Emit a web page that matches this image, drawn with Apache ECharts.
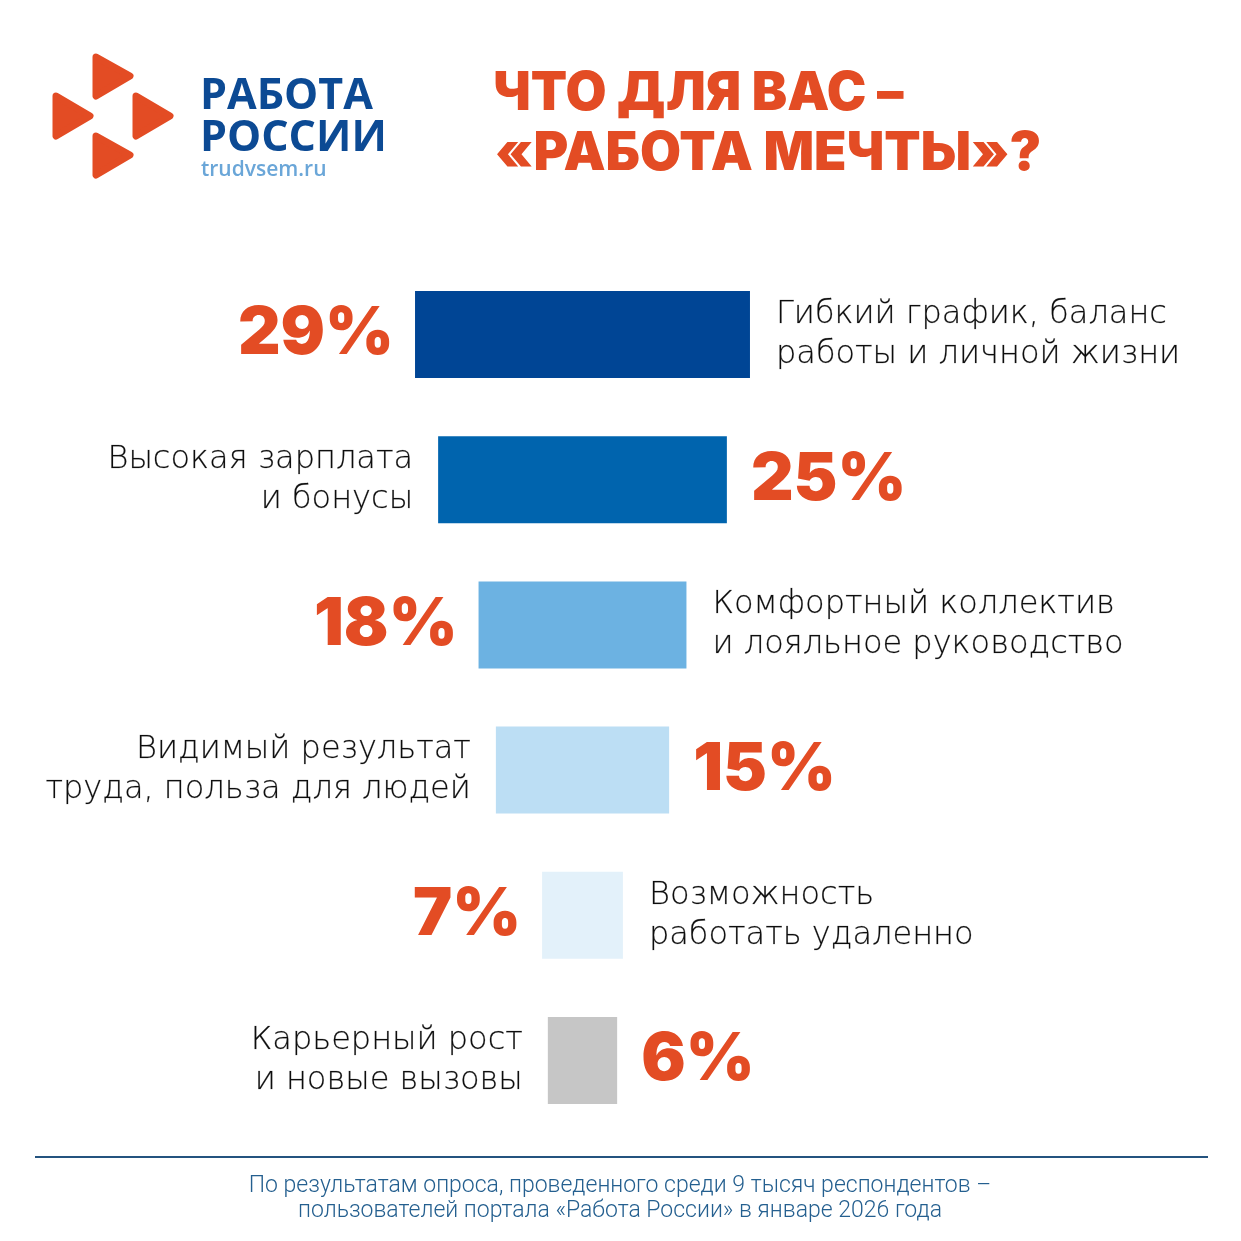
<!DOCTYPE html>
<html><head><meta charset="utf-8">
<script src="https://cdn.jsdelivr.net/npm/echarts@6/dist/echarts.min.js"></script>
<style>html,body{margin:0;padding:0;background:#fff}#c{width:1241px;height:1241px}</style>
</head><body><div id="c"></div>
<script>
const categories = [
  'Гибкий график, баланс\nработы и личной жизни',
  'Высокая зарплата\nи бонусы',
  'Комфортный коллектив\nи лояльное руководство',
  'Видимый результат\nтруда, польза для людей',
  'Возможность\nработать удаленно',
  'Карьерный рост\nи новые вызовы'
];
const values = [29, 25, 18, 15, 7, 6];
const barColors = ['#004595', '#0064ae', '#6cb2e2', '#bcdef4', '#e3f1fa', '#c6c6c6'];
const titleLines = ['ЧТО ДЛЯ ВАС –', '«РАБОТА МЕЧТЫ»?'];
const footnote = 'По результатам опроса, проведенного среди 9 тысяч респондентов –\nпользователей портала «Работа России» в январе 2026 года';

const ORANGE = '#e34c24';
const pctLabel = {fontFamily: 'Inter', fontWeight: 900, fontSize: 66, color: ORANGE};
const txtLabel = {fontFamily: 'DejaVu Sans', fontWeight: 300, fontSize: 32, lineHeight: 40, color: '#0d0d0d',
  textBorderColor: 'rgba(13,13,13,0.35)', textBorderWidth: 0.5};

// transparent offset that centres each bar on the axis midpoint (50)
const baseData = values.map((v, i) => {
  const pctOnLeft = i % 2 === 0;
  const lab = Object.assign({show: true, position: 'insideRight'}, pctOnLeft ? pctLabel : txtLabel,
    {formatter: pctOnLeft ? v + '%' : categories[i], distance: pctOnLeft ? 21 : 25});
  return {value: 50 - v / 2, label: lab};
});
const barData = values.map((v, i) => {
  const pctOnLeft = i % 2 === 0;
  const lab = Object.assign({show: true, position: 'right'}, pctOnLeft ? txtLabel : pctLabel,
    {formatter: pctOnLeft ? categories[i] : v + '%', distance: pctOnLeft ? 26 : 24});
  return {value: v, itemStyle: {color: barColors[i]}, label: lab};
});

const chart = echarts.init(document.getElementById('c'));
const tri = (pts) => ({type: 'polygon', shape: {points: pts},
  style: {fill: ORANGE, stroke: ORANGE, lineWidth: 7, lineJoin: 'round'}});
chart.setOption({
  backgroundColor: '#ffffff',
  animation: false,
  grid: {left: 5, right: 81, top: 262, height: 871},
  xAxis: {type: 'value', min: 0, max: 100, show: false},
  yAxis: {type: 'category', data: categories, inverse: true, show: false},
  series: [
    {type: 'bar', stack: 'c', barWidth: 87, itemStyle: {color: 'rgba(0,0,0,0)'}, data: baseData, silent: true},
    {type: 'bar', stack: 'c', barWidth: 87, data: barData}
  ],
  graphic: [
    tri([[96, 57], [130, 76], [96, 96]]),
    tri([[56, 96], [90, 116], [56, 136]]),
    tri([[136, 96], [170, 116], [136, 136]]),
    tri([[96, 136], [130, 155], [96, 175]]),
    {type: 'text', left: 200, top: 75, style: {text: 'РАБОТА', font: '700 43px "Open Sans"', fill: '#0c4a94'}},
    {type: 'text', left: 200, top: 117, style: {text: 'РОССИИ', font: '700 43px "Open Sans"', fill: '#0c4a94'}},
    {type: 'text', left: 201, top: 160, style: {text: 'trudvsem.ru', font: '600 21px "Open Sans"', fill: '#6aa6d8'}},
    {type: 'text', left: 493, top: 68, style: {text: titleLines[0], font: '900 53px Inter', fill: ORANGE}},
    {type: 'text', left: 495, top: 128, style: {text: titleLines[1], font: '900 53px Inter', fill: ORANGE}},
    {type: 'line', shape: {x1: 35, y1: 1157, x2: 1208, y2: 1157}, style: {stroke: '#24537f', lineWidth: 2}},
    {type: 'text', x: 620, y: 1174, style: {text: footnote, font: '300 23px Roboto', lineHeight: 25, fill: '#245f8f', align: 'center'}}
  ]
});
</script></body></html>
